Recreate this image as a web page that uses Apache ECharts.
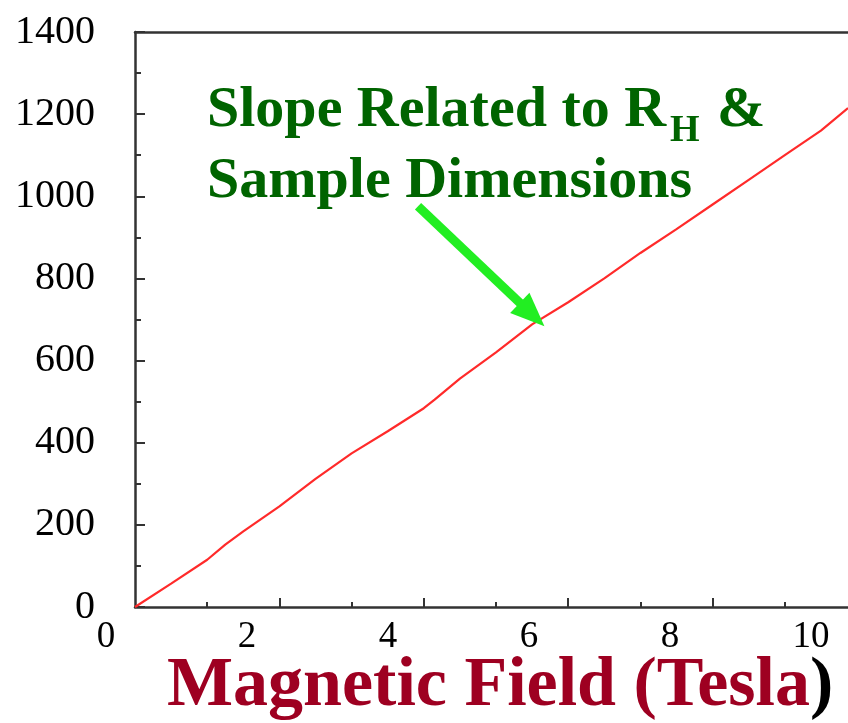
<!DOCTYPE html>
<html>
<head>
<meta charset="utf-8">
<script src="https://cdn.jsdelivr.net/npm/echarts@6/dist/echarts.min.js"></script>
<style>
html,body{margin:0;padding:0;background:#fff;}
#chart{width:848px;height:723px;}
</style>
</head>
<body>
<div id="chart"></div>
<script>
// Data (x in Tesla along the plotted tick scale, y in mV)
var fieldT = [0, 0.5, 1, 1.25, 1.5, 2, 2.5, 3, 3.5, 4, 4.15, 4.5, 5, 5.5, 6, 6.5, 7, 7.5, 8, 8.5, 9, 9.5, 9.875];
var hallV  = [0, 57, 115, 152, 184, 245, 312, 374, 428, 484, 505, 556, 620, 688, 742, 800, 862, 920, 980, 1040, 1100, 1160, 1215];
var yTicks = [0, 200, 400, 600, 800, 1000, 1200, 1400];
var xLabelValues = [0, 2, 4, 6, 8, 10];
var xMajorTicks = [2, 4, 6, 8];
var xMinorTicks = [1, 3, 5, 7, 9];
var arrowFrom = [3.92, 976];
var arrowTo = [5.5, 712];
var annotationLine1 = 'Slope Related to R';
var annotationSub = 'H';
var annotationAmp = '&';
var annotationLine2 = 'Sample Dimensions';
var xTitle = 'Magnetic Field (Tesla';

var serif = "'Liberation Serif','Times New Roman',serif";
var axisColor = '#333';

var chart = echarts.init(document.getElementById('chart'), null, {renderer: 'canvas'});
var option = {
  backgroundColor: '#fff',
  animation: false,
  title: {
    left: 167, top: 652, padding: 0,
    text: '{r|' + xTitle + '}{k|)}',
    textStyle: {
      rich: {
        r: {fontFamily: serif, fontWeight: 'bold', fontSize: 70, color: '#9e0021'},
        k: {fontFamily: serif, fontWeight: 'bold', fontSize: 70, color: '#000'}
      }
    }
  },
  grid: [
    {left: 135, right: 0, top: 32, bottom: 116, containLabel: false},
    {left: 106, right: 37, top: 32, bottom: 116, containLabel: false}
  ],
  xAxis: [
    {
      gridIndex: 0, type: 'value', min: 0, max: 9.875, position: 'bottom',
      axisLine: {show: true, lineStyle: {color: axisColor, width: 2.5}},
      axisTick: {show: true, inside: true, length: 9, customValues: xMajorTicks, lineStyle: {color: axisColor, width: 2}},
      axisLabel: {show: false}, splitLine: {show: false}
    },
    {
      gridIndex: 0, type: 'value', min: 0, max: 9.875, position: 'bottom',
      axisLine: {show: false},
      axisTick: {show: true, inside: true, length: 5, customValues: xMinorTicks, lineStyle: {color: axisColor, width: 2}},
      axisLabel: {show: false}, splitLine: {show: false}
    },
    {
      gridIndex: 0, type: 'value', min: 0, max: 9.875, position: 'top',
      axisLine: {show: true, lineStyle: {color: axisColor, width: 2.5}},
      axisTick: {show: false}, axisLabel: {show: false}, splitLine: {show: false}
    },
    {
      gridIndex: 1, type: 'value', min: 0, max: 10, position: 'bottom',
      axisLine: {show: false}, axisTick: {show: false}, splitLine: {show: false},
      axisLabel: {
        show: true, customValues: xLabelValues, margin: 12,
        showMinLabel: true, showMaxLabel: true,
        fontFamily: serif, fontSize: 37, color: '#000',
        formatter: function (v) { return v === 4 ? '{up|4}' : '{n|' + v + '}'; },
        rich: {
          n: {fontFamily: serif, fontSize: 37, color: '#000'},
          up: {fontFamily: serif, fontSize: 37, color: '#000', padding: [0, 0, 14, 0]}
        }
      }
    }
  ],
  yAxis: [
    {
      gridIndex: 0, type: 'value', min: 0, max: 1400, interval: 200,
      axisLine: {show: true, lineStyle: {color: axisColor, width: 2.5}},
      axisTick: {show: true, inside: true, length: 10, lineStyle: {color: axisColor, width: 2}},
      minorTick: {show: true, splitNumber: 2, length: 6, lineStyle: {color: axisColor, width: 2}},
      splitLine: {show: false},
      axisLabel: {
        show: true, margin: 40, fontFamily: serif, fontSize: 40, color: '#000',
        padding: [0, 0, 10, 0],
        customValues: yTicks,
        formatter: function (v) { return String(v); }
      }
    },
    {
      gridIndex: 1, type: 'value', min: 0, max: 1400, show: false
    }
  ],
  series: [
    {
      type: 'line', xAxisIndex: 0, yAxisIndex: 0,
      data: fieldT.map(function (x, i) { return [x, hallV[i]]; }),
      showSymbol: false, symbol: 'none',
      lineStyle: {color: '#ff2a2a', width: 2.2},
      markLine: {
        silent: true, animation: false,
        symbol: ['none', 'triangle'],
        symbolSize: [28, 34],
        label: {show: false},
        lineStyle: {color: '#22ee22', width: 9, type: 'solid'},
        data: [[{coord: arrowFrom}, {coord: arrowTo}]]
      }
    }
  ],
  graphic: [
    {
      type: 'text', left: 207, top: 82,
      style: {text: annotationLine1, font: "bold 58px 'Liberation Serif','Times New Roman',serif", fill: '#006400'}
    },
    {
      type: 'text', left: 670, top: 112,
      style: {text: annotationSub, font: "bold 38px 'Liberation Serif','Times New Roman',serif", fill: '#006400'}
    },
    {
      type: 'text', left: 717, top: 82,
      style: {text: annotationAmp, font: "bold 58px 'Liberation Serif','Times New Roman',serif", fill: '#006400'}
    },
    {
      type: 'text', left: 207, top: 153,
      style: {text: annotationLine2, font: "bold 58px 'Liberation Serif','Times New Roman',serif", fill: '#006400'}
    }
  ]
};
chart.setOption(option);
</script>
</body>
</html>
